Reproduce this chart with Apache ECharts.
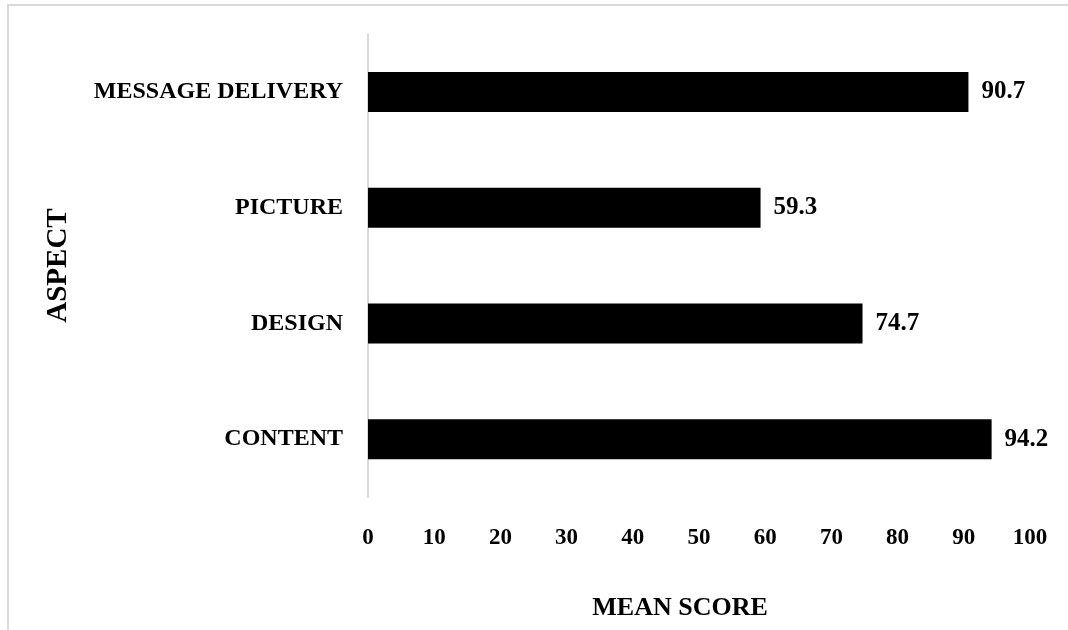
<!DOCTYPE html>
<html>
<head>
<meta charset="utf-8">
<script src="https://cdn.jsdelivr.net/npm/echarts@6/dist/echarts.min.js"></script>
<style>
  html, body { margin: 0; padding: 0; background: #fff; }
  #chart { width: 1068px; height: 630px; }
</style>
</head>
<body>
<div id="chart"></div>
<script>
// bottom to top
const aspects = ['CONTENT', 'DESIGN', 'PICTURE', 'MESSAGE DELIVERY'];
const meanScores = [94.2, 74.7, 59.3, 90.7];
const scoreTicks = [0, 10, 20, 30, 40, 50, 60, 70, 80, 90, 100];

const serif = '"Liberation Serif", "Times New Roman", serif';
const chart = echarts.init(document.getElementById('chart'));

chart.setOption({
  backgroundColor: '#fff',
  animation: false,
  textStyle: { fontFamily: serif },
  graphic: [{
    type: 'rect',
    shape: { x: 8, y: 5, width: 1200, height: 800 },
    style: { fill: 'none', stroke: '#d9d9d9', lineWidth: 2 },
    silent: true
  }],
  grid: { left: 368, right: 38, top: 34, bottom: 133 },
  xAxis: {
    type: 'value',
    min: scoreTicks[0],
    max: scoreTicks[scoreTicks.length - 1],
    interval: 10,
    axisLine: { show: false },
    axisTick: { show: false },
    splitLine: { show: false },
    axisLabel: { color: '#000', fontFamily: serif, fontWeight: 'bold', fontSize: 23, margin: 30 },
    name: 'MEAN SCORE',
    nameLocation: 'middle',
    nameGap: 98,
    nameTextStyle: { color: '#000', fontFamily: serif, fontWeight: 'bold', fontSize: 26, padding: [0, 38, 0, 0] }
  },
  yAxis: {
    type: 'category',
    data: aspects,
    axisLine: { show: true, lineStyle: { color: '#d9d9d9', width: 2 } },
    axisTick: { show: false },
    axisLabel: { color: '#000', fontFamily: serif, fontWeight: 'bold', fontSize: 24, margin: 25 },
    name: 'ASPECT',
    nameLocation: 'middle',
    nameRotate: 90,
    nameGap: 295,
    nameTextStyle: { color: '#000', fontFamily: serif, fontWeight: 'bold', fontSize: 29 }
  },
  series: [{
    type: 'bar',
    data: meanScores,
    barWidth: 40,
    itemStyle: { color: '#000' },
    label: {
      show: true,
      position: 'right',
      distance: 13,
      color: '#000',
      fontFamily: serif,
      fontWeight: 'bold',
      fontSize: 25
    }
  }]
});
</script>
</body>
</html>
